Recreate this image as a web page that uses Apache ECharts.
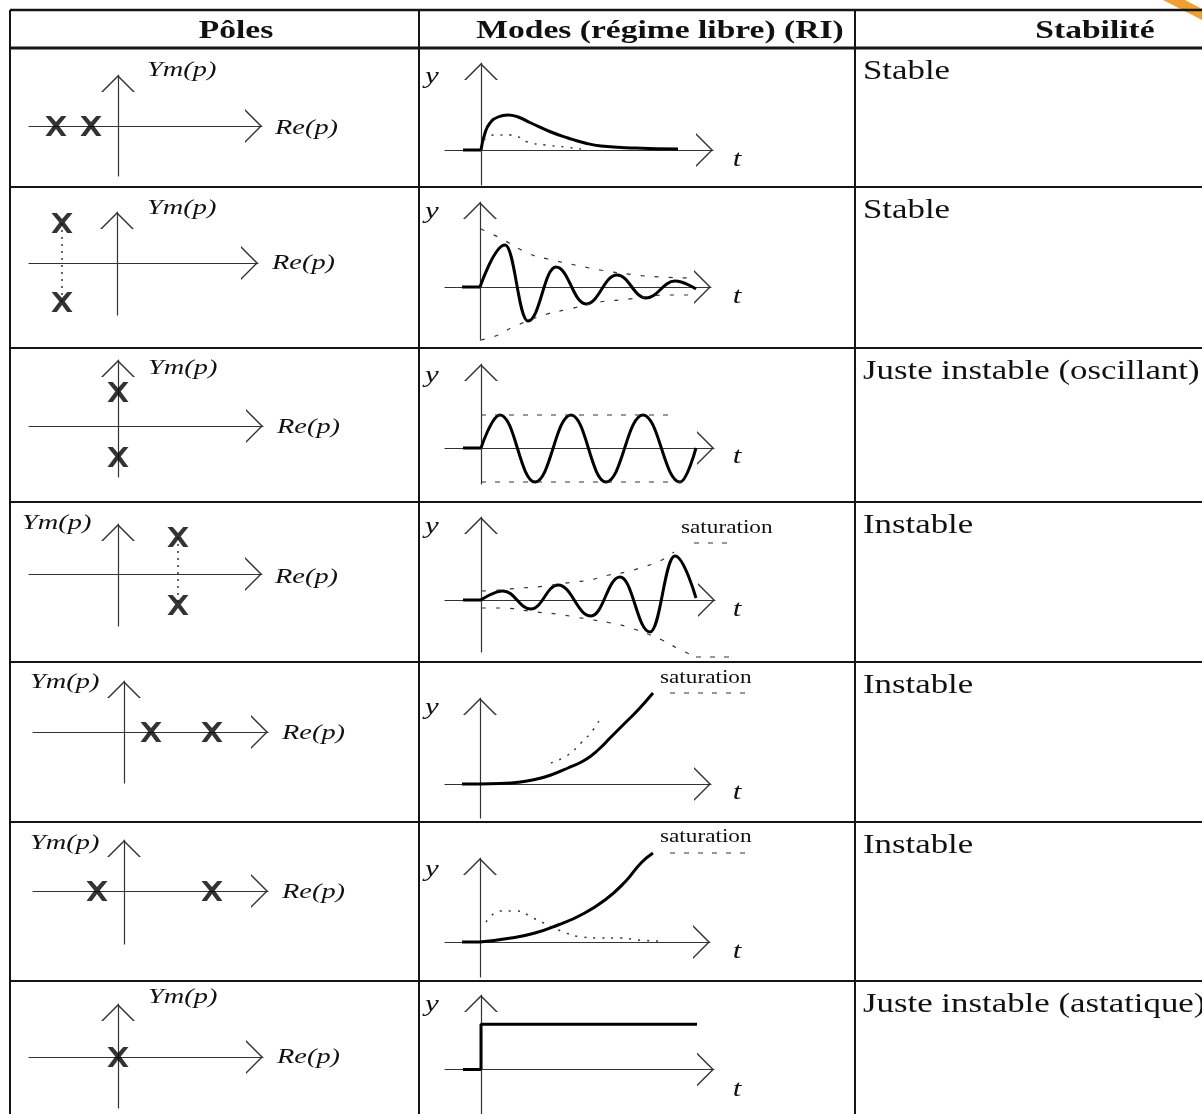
<!DOCTYPE html>
<html>
<head>
<meta charset="utf-8">
<script src="https://cdn.jsdelivr.net/npm/echarts@6/dist/echarts.min.js"></script>
<style>
  html, body { margin: 0; padding: 0; background: #fff; }
  #chart { width: 1202px; height: 1114px; }
</style>
</head>
<body>
<div id="chart"></div>
<script>
// en-têtes et colonne stabilité
var headers = ['Pôles', 'Modes (régime libre) (RI)', 'Stabilité'];
var stabilite = ['Stable', 'Stable', 'Juste instable (oscillant)', 'Instable', 'Instable', 'Instable', 'Juste instable (astatique)'];

// pôles [Re, Im]
var poles1 = [[-6.2, 0], [-2.7, 0]];
var poles2 = [[-5.5, 4.0], [-5.5, -3.9]];
var poles3 = [[0, 3.4], [0, -3.1]];
var poles4 = [[6.0, 3.7], [6.0, -3.1]];
var poles5 = [[2.7, 0], [8.8, 0]];
var poles6 = [[-2.7, 0], [8.8, 0]];
var poles7 = [[0, 0]];

// modes [t, y]  (oscillations : départ, extrema, fin)
var avant = [[-1.8, 0], [0, 0]];
var mode1 = [[0, 0], [0.4, 1.7], [0.9, 2.7], [1.7, 3.3], [2.7, 3.5], [3.7, 3.3], [5.0, 2.7], [7.0, 1.8], [8.7, 1.2], [10.4, 0.7], [12.0, 0.4], [15.4, 0.2], [19.7, 0.1]];
var pointille1 = [[0.3, 1.0], [1.2, 1.5], [3.0, 1.5], [4.7, 0.8], [6.4, 0.5], [8.4, 0.3], [10.0, 0.1]];

var mode2 = [[0, 0], [2.5, 4.2], [4.8, -3.4], [7.6, 2.0], [10.6, -1.7], [13.7, 1.2], [16.6, -1.1], [19.5, 0.6], [21.6, -0.2]];
var env2Haut = [[0.1, 5.8], [1.8, 5.0], [5.0, 3.3], [6.8, 2.8], [10, 2.1], [12, 1.7], [15.6, 1.2], [18, 1.0], [21, 0.9]];
var env2Bas = [[0.1, -5.3], [1.8, -4.8], [3.3, -4.0], [6.7, -2.7], [8.5, -2.3], [12, -1.5], [14, -1.3], [19.2, -0.8], [21, -0.8]];

var mode3 = [[0, 0], [1.9, 3.3], [5.4, -3.4], [9.0, 3.3], [12.5, -3.4], [16.2, 3.3], [19.9, -3.4], [21.5, 0]];
var env3Haut = [[0, 3.3], [18.7, 3.3]];
var env3Bas = [[0, -3.4], [21.0, -3.4]];

var mode4 = [[0, 0], [2.2, 0.9], [5.0, -0.9], [7.7, 1.5], [11.0, -1.6], [13.9, 2.3], [16.9, -3.2], [19.4, 4.4], [21.5, 0.2]];
var env4Haut = [[0.1, 0.9], [1.8, 1.0], [3.9, 1.2], [5.6, 1.3], [9.3, 1.8], [10.9, 2.0], [12.8, 2.5], [14.5, 2.8], [16.2, 3.3], [17.9, 3.9], [19.3, 4.8]];
var env4Bas = [[0.1, -0.8], [1.9, -0.8], [5.5, -1.2], [7.6, -1.4], [9.4, -1.7], [11.2, -2.0], [13.0, -2.3], [14.7, -2.7], [18.1, -4.0], [19.6, -4.8], [21.5, -5.7]];
var sat4Haut = [[21.3, 5.7], [25.4, 5.7]];
var sat4Bas = [[21.5, -5.7], [25.4, -5.7]];

var mode5 = [[0, 0], [2.0, 0.05], [3.8, 0.17], [5.5, 0.45], [7.1, 0.9], [8.8, 1.6], [10.5, 2.4], [11.8, 3.4], [13.1, 4.7], [14.5, 6.1], [15.8, 7.4], [17.3, 9.1]];
var pointille5 = [[7.1, 2.1], [8.8, 2.9], [10.1, 4.1], [11.3, 5.4], [12.1, 6.7]];
var sat5 = [[19.0, 9.1], [26.8, 9.1]];

var mode6 = [[0, 0], [3.1, 0.4], [5.5, 0.9], [7.8, 1.7], [10.1, 2.7], [12.5, 4.2], [14.5, 6.0], [16.1, 7.9], [17.3, 8.9]];
var pointille6 = [[0.6, 2.0], [2.1, 3.1], [3.6, 3.1], [5.3, 2.4], [8.6, 0.9], [10.3, 0.5], [12.1, 0.4], [14.0, 0.4], [15.8, 0.2], [17.8, 0.1]];
var sat6 = [[19.0, 8.9], [26.8, 8.9]];

var mode7 = [[0, 0], [0, 5.1], [21.6, 5.1]];

// mise en page : origine (px), xmin, xmax, ymin, ymax  (10 px par unité)
var rowTop = [48, 187, 348, 502, 662, 822, 981];
var poleBox = [
  [118, 126, -8.9, 14.4, -5.0, 5.1],
  [117, 263, -8.8, 14.1, -5.2, 5.1],
  [118, 426, -8.9, 14.5, -5.1, 6.6],
  [118, 574, -8.9, 14.4, -5.2, 5.0],
  [124, 732, -9.1, 14.4, -5.1, 5.1],
  [124, 891, -9.1, 14.4, -5.3, 5.1],
  [118, 1057, -8.9, 14.5, -5.1, 5.3]
];
var modeBox = [
  [481, 150, -3.6, 23.2, -3.5, 8.7],
  [480, 287, -3.5, 23.1, -5.3, 8.5],
  [481, 448, -3.6, 23.3, -3.6, 8.4],
  [481, 600, -3.6, 23.4, -5.2, 8.3],
  [480, 784, -3.5, 23.1, -3.4, 8.6],
  [480, 942, -3.5, 23.0, -3.5, 8.4],
  [481, 1079, -3.6, 23.3, -5.0, 8.4]
];
var ymPos = [[147, 70], [147, 208], [148, 368], [22, 523], [30, 682], [30, 843], [148, 997]];
var rePos = [[275, 128], [272, 263], [277, 427], [275, 577], [282, 733], [282, 892], [277, 1057]];
var yPos = [77, 212, 376, 527, 708, 870, 1005];
var tPos = [160, 297, 457, 610, 793, 952, 1090];
var satPos = [[681, 528], [660, 678], [660, 837]];

var PX = 10;
var ARROW = 'path://M0,17 L17,0 L34,17 L32,17 L17,2 L2,17 Z';
var CROIX = 'path://M0,0 L5,0 L10,6 L15,0 L20,0 L12.6,9.5 L20,20 L15,20 L10,13 L5,20 L0,20 L7.4,9.5 Z';
var SERIF = '"Liberation Serif", "Times New Roman", serif';
var SX = 1.29;

var grids = [], xAxes = [], yAxes = [], series = [];

function axe(min, max, idx, visible) {
  return {
    type: 'value', gridIndex: idx, min: min, max: max, show: visible,
    axisLine: {
      onZero: true,
      symbol: ['none', ARROW],
      symbolSize: [34, 17],
      symbolOffset: [0, -8.5],
      lineStyle: { color: '#333', width: 1.2 }
    },
    axisTick: { show: false },
    axisLabel: { show: false },
    splitLine: { show: false }
  };
}

// ext : grille invisible de même échelle, agrandie (traits de saturation, courbes qui débordent)
function addGrid(b, ext) {
  var idx = grids.length;
  var x0 = b[2], x1 = ext ? 28 : b[3], y0 = ext ? -7 : b[4], y1 = ext ? 10.5 : b[5];
  grids.push({
    left: b[0] + x0 * PX, top: b[1] - y1 * PX,
    width: (x1 - x0) * PX, height: (y1 - y0) * PX
  });
  xAxes.push(axe(x0, x1, idx, !ext));
  yAxes.push(axe(y0, y1, idx, !ext));
  return idx;
}

function ligne(idx, data, opts) {
  opts = opts || {};
  var s = {
    type: 'line', xAxisIndex: idx, yAxisIndex: idx, data: data,
    symbol: 'none', smooth: opts.smooth || false, clip: false, z: opts.z || 3,
    lineStyle: { color: opts.color || '#000', width: opts.width || 3, type: opts.type || 'solid' }
  };
  if (opts.mono) s.smoothMonotone = 'x';
  series.push(s);
}

var polesList = [poles1, poles2, poles3, poles4, poles5, poles6, poles7];
var liens = [null, poles2, null, poles4, null, null, null];
var TIRET = { smooth: true, width: 1.2, type: [4, 10], color: '#333' };
var POINT = { smooth: true, width: 1.5, type: [2, 7], color: '#333' };
var SAT = { width: 1.2, type: [5, 9], color: '#333' };
var OSC = { smooth: 0.42, mono: true };

for (var i = 0; i < 7; i++) {
  // pôles
  var gp = addGrid(poleBox[i]);
  if (liens[i]) ligne(gp, liens[i], { width: 1.5, type: [2, 5], color: '#333' });
  series.push({
    type: 'scatter', xAxisIndex: gp, yAxisIndex: gp, data: polesList[i],
    symbol: CROIX, symbolSize: [21, 20], itemStyle: { color: '#000' }, z: 5
  });

  // modes
  var gm = addGrid(modeBox[i]);
  ligne(gm, avant);
  if (i === 0) {
    ligne(gm, mode1, { smooth: true });
    ligne(gm, pointille1, POINT);
  } else if (i === 1) {
    ligne(gm, mode2, OSC);
    ligne(gm, env2Haut, TIRET);
    ligne(gm, env2Bas, TIRET);
  } else if (i === 2) {
    ligne(gm, mode3, OSC);
    ligne(gm, env3Haut, SAT);
    ligne(gm, env3Bas, SAT);
  } else if (i === 3) {
    ligne(gm, mode4, OSC);
    ligne(gm, env4Haut, TIRET);
    var g4 = addGrid(modeBox[i], true);
    ligne(g4, env4Bas, TIRET);
    ligne(g4, sat4Haut, SAT);
    ligne(g4, sat4Bas, SAT);
  } else if (i === 4) {
    ligne(gm, pointille5, POINT);
    var g5 = addGrid(modeBox[i], true);
    ligne(g5, mode5, { smooth: true });
    ligne(g5, sat5, SAT);
  } else if (i === 5) {
    ligne(gm, pointille6, POINT);
    var g6 = addGrid(modeBox[i], true);
    ligne(g6, mode6, { smooth: true });
    ligne(g6, sat6, SAT);
  } else {
    ligne(gm, mode7);
  }
}

// textes
function txt(x, y, s, font, align) {
  return {
    type: 'text', x: x, y: y, scaleX: SX, z: 10,
    style: {
      text: s, font: font, fill: '#111',
      align: align || 'left', textAlign: align || 'left',
      verticalAlign: 'middle', textVerticalAlign: 'middle'
    }
  };
}
function trait(x1, y1, x2, y2, w) {
  return { type: 'line', z: 9, shape: { x1: x1, y1: y1, x2: x2, y2: y2 }, style: { stroke: '#151515', lineWidth: w || 2 } };
}

var graphics = [];
// tableau
graphics.push(trait(10, 10, 1202, 10, 2.5));
graphics.push(trait(10, 48, 1202, 48, 3));
rowTop.slice(1).forEach(function (y) { graphics.push(trait(10, y, 1202, y, 2)); });
[10, 419, 855].forEach(function (x) { graphics.push(trait(x, 10, x, 1114, 2)); });
// en-têtes
graphics.push(txt(236, 31, headers[0], 'bold 26px ' + SERIF, 'center'));
graphics.push(txt(660, 31, headers[1], 'bold 26px ' + SERIF, 'center'));
graphics.push(txt(1095, 31, headers[2], 'bold 26px ' + SERIF, 'center'));
for (var r = 0; r < 7; r++) {
  graphics.push(txt(863, rowTop[r] + 24, stabilite[r], '27px ' + SERIF));
  graphics.push(txt(ymPos[r][0], ymPos[r][1], 'Ym(p)', 'italic 22px ' + SERIF));
  graphics.push(txt(rePos[r][0], rePos[r][1], 'Re(p)', 'italic 22px ' + SERIF));
  graphics.push(txt(425, yPos[r], 'y', 'italic 24px ' + SERIF));
  graphics.push(txt(737, tPos[r], 't', 'italic 24px ' + SERIF, 'center'));
}
satPos.forEach(function (p) { graphics.push(txt(p[0], p[1], 'saturation', '18px ' + SERIF)); });
// coin orange
graphics.push({
  type: 'polygon', z: 8,
  shape: { points: [[1163, 0], [1185, 0], [1202, 9], [1202, 20]] },
  style: { fill: '#f0a030' }
});

var chart = echarts.init(document.getElementById('chart'));
chart.setOption({
  animation: false,
  backgroundColor: '#fff',
  grid: grids,
  xAxis: xAxes,
  yAxis: yAxes,
  series: series,
  graphic: graphics
});
</script>
</body>
</html>
